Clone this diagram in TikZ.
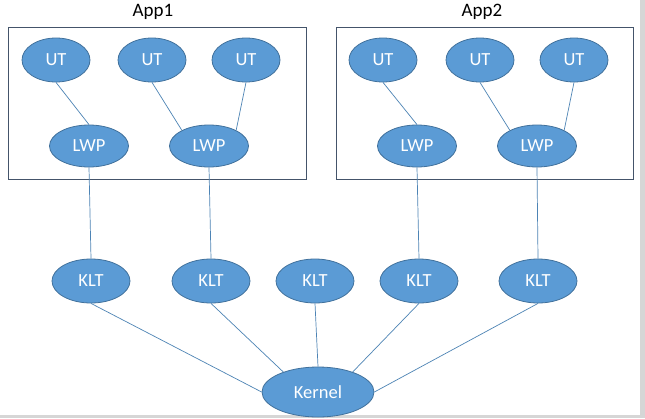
\documentclass[tikz,border=0pt]{standalone}
\usepackage{fontspec}
\setmainfont{Carlito}
\usetikzlibrary{shapes.geometric}
\definecolor{nodefill}{HTML}{5B9BD5}
\definecolor{nodeedge}{HTML}{41719C}
\definecolor{boxedge}{HTML}{44546A}
\definecolor{edgegrey}{HTML}{D6D6D6}
\tikzset{
  th/.style={ellipse, fill=nodefill, draw=nodeedge, line width=0.8pt, text=white,
    font=\fontsize{18.5}{21}\selectfont, inner sep=0pt, minimum width=#1, minimum height=44pt},
  th/.default=68pt,
  conn/.style={draw=nodefill!85!black, line width=0.7pt},
  appbox/.style={draw=boxedge, line width=0.8pt},
  title/.style={font=\fontsize{19}{22}\selectfont, text=black}
}
\begin{document}
\begin{tikzpicture}[x=1pt,y=-1pt]
\useasboundingbox (0,0) rectangle (645,418);
\fill[white] (0,0) rectangle (645,418);
\fill[edgegrey] (640,0) rectangle (645,418);
\fill[edgegrey] (0,415) rectangle (645,418);
% app boxes
\draw[appbox] (8,27) rectangle (306,179);
\draw[appbox] (336,27) rectangle (633,179);
\node[title] (t1) at (153,12) {App1};
\node[title] (t2) at (482,12) {App2};
% UTs
\node[th] (u1) at (56,60) {UT};
\node[th] (u2) at (152,60) {UT};
\node[th] (u3) at (246,60) {UT};
\node[th] (u4) at (383,60) {UT};
\node[th] (u5) at (480,60) {UT};
\node[th] (u6) at (574,60) {UT};
% LWPs
\node[th=79pt, minimum height=42pt] (l1) at (89,146) {LWP};
\node[th=79pt, minimum height=42pt] (l2) at (209,146) {LWP};
\node[th=79pt, minimum height=42pt] (l3) at (417,146) {LWP};
\node[th=79pt, minimum height=42pt] (l4) at (537,146) {LWP};
% KLTs
\node[th=78pt] (k1) at (91,281) {KLT};
\node[th=78pt] (k2) at (211,281) {KLT};
\node[th=78pt] (k3) at (315,281) {KLT};
\node[th=78pt] (k4) at (419,281) {KLT};
\node[th=78pt] (k5) at (538,281) {KLT};
% Kernel
\node[th=112pt, minimum height=50pt] (kern) at (318,392) {Kernel};
% connectors
\draw[conn] (u1.south) -- (l1.north);
\draw[conn] (u2.south) -- (l2.150);
\draw[conn] (u3.south) -- (l2.30);
\draw[conn] (u4.south) -- (l3.north);
\draw[conn] (u5.south) -- (l4.150);
\draw[conn] (u6.south) -- (l4.30);
\draw[conn] (l1.south) -- (k1.north);
\draw[conn] (l2.south) -- (k2.north);
\draw[conn] (l3.south) -- (k4.north);
\draw[conn] (l4.south) -- (k5.north);
\draw[conn] (k1.south) -- (kern.west);
\draw[conn] (k2.south) -- (kern.150);
\draw[conn] (k3.south) -- (kern.north);
\draw[conn] (k4.south) -- (kern.30);
\draw[conn] (k5.south) -- (kern.east);
\end{tikzpicture}
\end{document}
